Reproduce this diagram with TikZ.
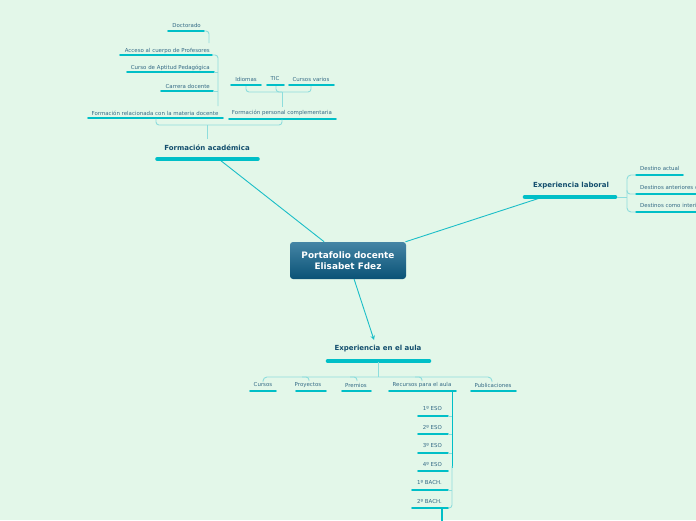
\documentclass[tikz,border=0pt]{standalone}
\usepackage{fontspec}
\setmainfont{DejaVu Sans}
\usetikzlibrary{arrows.meta}
\definecolor{bg}{HTML}{E3F7E9}
\definecolor{barc}{HTML}{00BFC7}
\definecolor{brkc}{HTML}{8EDDDC}
\definecolor{subt}{HTML}{336985}
\definecolor{maint}{HTML}{134E6D}
\definecolor{ctop}{HTML}{4585A5}
\definecolor{cbot}{HTML}{0A5276}
\definecolor{linkc}{HTML}{1BBEC7}
\tikzset{
 sub/.style={font=\fontsize{5.45}{6.5}\selectfont, text=subt, inner sep=0pt},
 maintxt/.style={font=\bfseries\fontsize{7}{8.5}\selectfont, text=maint, inner sep=0pt},
 subbar/.style={draw=barc, line width=1.8pt, line cap=round},
 mainbar/.style={draw=barc, line width=4.6pt, line cap=round},
 brk/.style={draw=brkc, line width=0.9pt, rounded corners=3pt},
 link/.style={draw=linkc, line width=0.9pt},
 central/.style={rounded corners=3pt, top color=ctop, bottom color=cbot, draw=none,
   minimum width=116pt, minimum height=37pt, text=white, inner sep=0pt,
   font=\bfseries\fontsize{8.9}{11}\selectfont, align=center},
}
\begin{document}
\begin{tikzpicture}[x=1pt,y=-1pt]
\fill[bg] (0,0) rectangle (696,520);
\useasboundingbox (0,0) rectangle (696,520);
\clip (0,0) rectangle (696,520);

% ---------- central ----------
\coordinate (faC) at (220,160);
\coordinate (elC) at (540,198);
\coordinate (auC) at (374,340);
\node[central] (root) at (348,260.5) {Portafolio docente\\Elisabet Fdez};
\draw[link] (root) -- (faC);
\draw[link] (root) -- (elC);
\draw[link,-{Stealth[length=4.5pt,width=4.5pt]}] (root) -- (auC);

% ---------- Formación académica ----------
\node[maintxt] (fa) at (207,148) {Formación académica};
\draw[mainbar] (157.5,159) -- (257.5,159);
\coordinate (faTop) at (207,139);
\coordinate (faBr) at (207,125);
\draw[brk] (faTop) -- (faBr);

\node[sub] (fr) at (155,113) {Formación relacionada con la materia docente};
\draw[subbar] (88,118) -- (223,118);
\node[sub] (fp) at (282,113) {Formación personal complementaria};
\draw[subbar] (229,119) -- (336,119);
\draw[brk] (156,118.5) |- (faBr) -| (282,119.5);

% children of formación relacionada
\node[sub,anchor=east] (doc) at (201,25) {Doctorado};
\draw[subbar] (168,31) -- (204,31);
\node[sub,anchor=east] (acc) at (210,51) {Acceso al cuerpo de Profesores};
\draw[subbar] (120,55) -- (212,55);
\node[sub,anchor=east] (cap) at (210,68) {Curso de Aptitud Pedagógica};
\draw[subbar] (127,72) -- (214,72);
\node[sub,anchor=east] (car) at (210,86) {Carrera docente};
\draw[subbar] (161,91) -- (213,91);
\coordinate (frTop) at (218,106);
\draw[brk] (205,31) -| (209,43);
\draw[brk] (213,55) -| (frTop);
\draw[brk] (214,72) -- (218,72);
\draw[brk] (213,91) -- (218,91);

% children of formación personal
\node[sub] (idi) at (246,79) {Idiomas};
\draw[subbar] (231,85) -- (261,85);
\node[sub] (tic) at (275,79) {TIC};
\draw[subbar] (267,85) -- (284,85);
\node[sub] (cvr) at (311,79) {Cursos varios};
\draw[subbar] (289,85) -- (334,85);
\coordinate (fpTop) at (282,107);
\coordinate (fpBr) at (282,92);
\draw[brk] (246,86) |- (fpBr) -| (311,86);
\draw[brk] (276,86) |- (fpBr);
\draw[brk] (fpBr) -- (fpTop);

% ---------- Experiencia laboral ----------
\node[maintxt] (el) at (571,186) {Experiencia laboral};
\draw[mainbar] (525,197) -- (615,197);
\coordinate (elBr) at (627,197);
\draw[brk] (617,197) -- (elBr);
\node[sub,anchor=west] (da) at (640,168) {Destino actual};
\draw[subbar] (636,175) -- (683,175);
\node[sub,anchor=west] (dan) at (640,187) {Destinos anteriores como definitivo};
\draw[subbar] (636,194) -- (700,194);
\node[sub,anchor=west] (dci) at (640,205) {Destinos como interino};
\draw[subbar] (636,212) -- (700,212);
\draw[brk,rounded corners=4pt] (636,175) -| (elBr) |- (636,212);
\draw[brk] (627,190) |- (636,194);

% ---------- Experiencia en el aula ----------
\node[maintxt] (au) at (378,349) {Experiencia en el aula};
\draw[mainbar] (328,361) -- (429,361);
\coordinate (auBr) at (378,377);
\draw[brk] (378,362) -- (auBr);
\draw[brk,rounded corners=4pt] (263,382) |- (auBr) -| (492,382);
\draw[brk] (302,377) -| (309,381);
\draw[brk] (350,377) -| (357,381);
\draw[brk] (415,377) -| (422,381);

\node[sub] (cur) at (263,385) {Cursos};
\draw[subbar] (250,391) -- (276,391);
\node[sub] (pro) at (308,385) {Proyectos};
\draw[subbar] (296,391) -- (326,391);
\node[sub] (pre) at (356,385) {Premios};
\draw[subbar] (342,391) -- (371,391);
\node[sub] (rec) at (422,385) {Recursos para el aula};
\draw[subbar] (389,391) -- (456,391);
\node[sub] (pub) at (493,385) {Publicaciones};
\draw[subbar] (471,391) -- (516,391);

% children of recursos
\coordinate (recR) at (452,392);
\draw[draw=barc,line width=1pt] (recR) -- (452,468);
\draw[brk] (452,466) |- (447,508);
\node[sub,anchor=east] (e1) at (442,409) {1º ESO};
\draw[subbar] (418,416) -- (448,416);
\node[sub,anchor=east] (e2) at (442,428) {2º ESO};
\draw[subbar] (418,434) -- (448,434);
\node[sub,anchor=east] (e3) at (442,446) {3º ESO};
\draw[subbar] (418,453) -- (448,453);
\node[sub,anchor=east] (e4) at (442,465) {4º ESO};
\draw[subbar] (418,471) -- (448,471);
\node[sub,anchor=east] (b1) at (442,483) {1º BACH.};
\draw[subbar] (412,490) -- (448,490);
\node[sub,anchor=east] (b2) at (442,502) {2º BACH.};
\draw[subbar] (412,508) -- (448,508);
\draw[brk] (448,416) -- (452,416);
\draw[brk] (448,434) -- (452,434);
\draw[brk] (448,453) -- (452,453);
\draw[brk] (448,490) -- (452,490);
\coordinate (bOut) at (442,524);
\draw[draw=barc,line width=1.2pt] (442,509) -- (bOut);
\end{tikzpicture}
\end{document}
